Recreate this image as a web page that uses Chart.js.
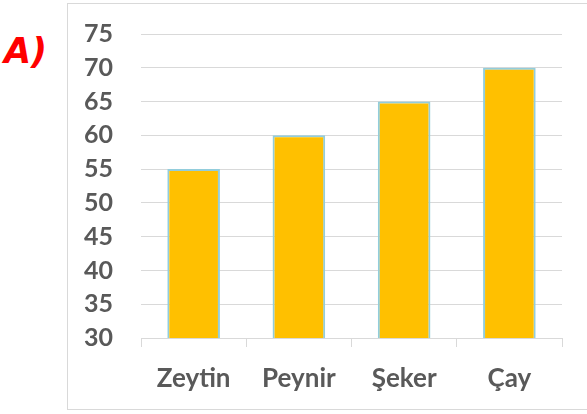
<!DOCTYPE html>
<html>
<head>
<meta charset="utf-8">
<script src="https://cdn.jsdelivr.net/npm/chart.js@4"></script>
<style>
  body { margin: 0; background: #fff; }
  #wrap { position: relative; width: 587px; height: 414px; overflow: hidden; }
  #box { position: absolute; left: 67px; top: 3px; width: 540px; height: 405px; border: 1px solid #d9d9d9; }
  #label { position: absolute; left: 4px; top: 31px; color: #ff0000; font: italic bold 35px "DejaVu Sans", sans-serif; }
  canvas { position: absolute; left: 0; top: 0; }
</style>
</head>
<body>
<div id="wrap">
  <div id="box"></div>
  <div id="label">A)</div>
  <canvas id="myChart" width="587" height="414"></canvas>
</div>
<script>
// chart data
const categories = ['Zeytin', 'Peynir', 'Şeker', 'Çay'];
const values = [55, 60, 65, 70];
const yTicks = [30, 35, 40, 45, 50, 55, 60, 65, 70, 75];

const canvas = document.getElementById('myChart');
const ctx = canvas.getContext('2d');

const textColor = '#595959';
const gridColor = '#d9d9d9';

const myChart = new Chart(ctx, {
  type: 'bar',
  data: {
    labels: categories,
    datasets: [{
      data: values,
      backgroundColor: '#ffc000',
      borderColor: '#92cddc',
      borderWidth: 2,
      categoryPercentage: 1,
      barPercentage: 0.5
    }]
  },
  options: {
    responsive: false,
    animation: false,
    layout: { padding: { top: 34, right: 25, bottom: 0, left: 0 } },
    plugins: { legend: { display: false }, tooltip: { enabled: false } },
    scales: {
      y: {
        min: yTicks[0],
        max: yTicks[yTicks.length - 1],
        afterFit: scale => { scale.width = 141; },
        afterBuildTicks: scale => { scale.ticks = yTicks.map(v => ({ value: v })); },
        border: { display: false },
        // invisible tick marks push the labels away from the plot
        grid: { color: gridColor, drawTicks: true, tickLength: 28, tickColor: 'rgba(0,0,0,0)' },
        ticks: { autoSkip: false, color: textColor, padding: 0, font: { family: 'Lato', size: 25, weight: 'bold' } }
      },
      x: {
        afterFit: scale => { scale.height = 76; },
        border: { display: true, color: gridColor },
        grid: { drawOnChartArea: false, drawTicks: true, tickLength: 9, color: gridColor },
        ticks: { color: textColor, padding: 16, font: { family: 'Lato', size: 26, weight: 'bold' } }
      }
    }
  }
});
</script>
</body>
</html>
